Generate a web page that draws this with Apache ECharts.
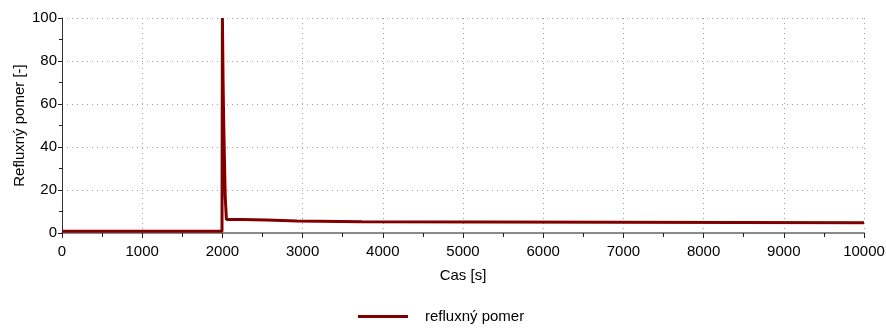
<!DOCTYPE html>
<html>
<head>
<meta charset="utf-8">
<script src="https://cdn.jsdelivr.net/npm/echarts@6/dist/echarts.min.js"></script>
<style>
  html, body { margin: 0; padding: 0; background: #fff; }
  #chart { width: 886px; height: 329px; }
</style>
</head>
<body>
<div id="chart"></div>
<script>
// Time axis [s] and reflux ratio samples
const casS = [0, 1995, 2000, 2008, 2015, 2025, 2035, 2050, 2240, 2250, 2550, 2560, 2930, 2940, 3740, 3750, 10000];
const refluxnyPomer = [0.8, 0.8, 100, 72, 54, 35, 17, 6.3, 6.3, 6.0, 6.0, 5.6, 5.6, 5.2, 5.2, 4.8, 4.8];

const seriesName = 'refluxný pomer';
const xName = 'Cas [s]';
const yName = 'Refluxný pomer [-]';

const font = '"Liberation Sans", Arial, sans-serif';
const lineColor = '#800000';
const textColor = '#000';

const points = casS.map((t, i) => [t, refluxnyPomer[i]]);

const chart = echarts.init(document.getElementById('chart'), null, { renderer: 'canvas' });
chart.setOption({
  animation: false,
  backgroundColor: '#ffffff',
  textStyle: { fontFamily: font },
  grid: { left: 62, right: 22, top: 18, bottom: 96, containLabel: false, outerBoundsMode: 'none' },
  legend: {
    bottom: 0,
    left: 353,
    icon: 'rect',
    itemWidth: 50,
    itemHeight: 3,
    itemGap: 10,
    textStyle: { fontFamily: font, fontSize: 15, color: textColor, padding: [0, 0, 0, 12] },
    data: [seriesName]
  },
  xAxis: {
    type: 'value',
    min: 0,
    max: 10000,
    interval: 1000,
    name: xName,
    nameLocation: 'middle',
    nameGap: 35,
    nameMoveOverlap: false,
    nameTextStyle: { fontFamily: font, fontSize: 15, color: textColor },
    axisLine: { show: true, onZero: false, lineStyle: { color: '#8a8a8a', width: 2 } },
    axisTick: { show: true, length: 5, lineStyle: { color: '#222' } },
    minorTick: { show: true, splitNumber: 2, length: 4, lineStyle: { color: '#222' } },
    axisLabel: { fontFamily: font, fontSize: 15, color: textColor, margin: 11, formatter: v => String(v) },
    splitLine: { show: true, lineStyle: { color: '#a0a0a0', type: [1, 4], width: 1 } }
  },
  yAxis: {
    type: 'value',
    min: 0,
    max: 100,
    interval: 20,
    name: yName,
    nameLocation: 'middle',
    nameGap: 35,
    nameMoveOverlap: false,
    nameTextStyle: { fontFamily: font, fontSize: 15, color: textColor },
    axisLine: { show: true, lineStyle: { color: '#333', width: 1 } },
    axisTick: { show: true, length: 4, lineStyle: { color: '#222' } },
    minorTick: { show: true, splitNumber: 2, length: 3, lineStyle: { color: '#222' } },
    axisLabel: { fontFamily: font, fontSize: 15, color: textColor, margin: 5, formatter: v => String(v) },
    splitLine: { show: true, lineStyle: { color: '#a0a0a0', type: [1, 4], width: 1 } }
  },
  series: [{
    name: seriesName,
    type: 'line',
    data: points,
    showSymbol: false,
    symbol: 'none',
    lineStyle: { color: lineColor, width: 3 },
    itemStyle: { color: lineColor },
    z: 5
  }]
});
</script>
</body>
</html>
